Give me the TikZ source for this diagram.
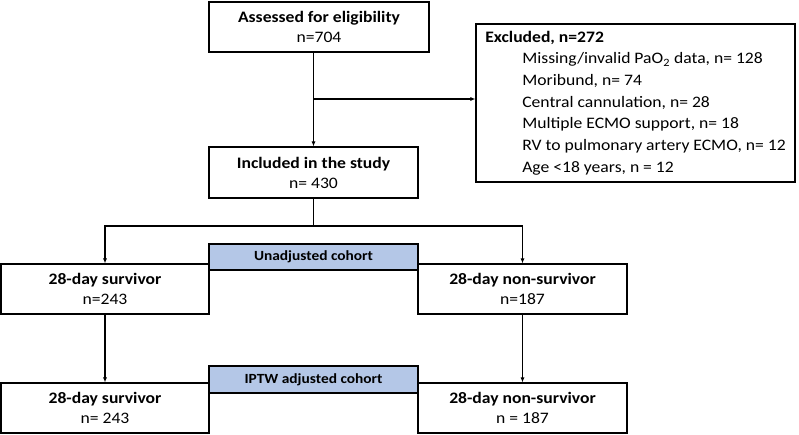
\documentclass[tikz,border=0pt]{standalone}
\usepackage{fontspec}
\setmainfont{Carlito}[FakeStretch=1.1]
\usetikzlibrary{arrows.meta}
\definecolor{cohortblue}{RGB}{180,199,231}
\begin{document}
\begin{tikzpicture}[x=1pt,y=-1pt,
  box/.style={draw=black,line width=1.1pt,fill=white,align=center,inner sep=0pt,
    font=\fontsize{16}{20}\selectfont},
  cohort/.style={draw=black,line width=1.1pt,fill=cohortblue,align=center,inner sep=0pt,
    minimum width=209pt,minimum height=26pt,font=\bfseries\fontsize{14}{15}\selectfont},
  conn/.style={line width=1.1pt,-{Latex[length=5pt,width=4pt]}},
  plain/.style={line width=1.1pt}]
\useasboundingbox (0,0) rectangle (799,434);
\node[box,minimum width=220pt,minimum height=50pt] (asses) at (319,27) {\textbf{Assessed for eligibility}\\n=704};
\node[box,minimum width=319pt,minimum height=158pt,align=left,
  font=\fontsize{16}{21.7}\selectfont] (excl) at (635.5,103)
  {\textbf{Excluded, n=272}\\
   \hspace*{37pt}Missing/invalid PaO\textsubscript{2} data, n= 128\\
   \hspace*{37pt}Moribund, n= 74\\
   \hspace*{37pt}Central cannulation, n= 28\\
   \hspace*{37pt}Multiple ECMO support, n= 18\\
   \hspace*{37pt}RV to pulmonary artery ECMO, n= 12\\
   \hspace*{37pt}Age <18 years, n = 12};
\node[box,minimum width=209pt,minimum height=51pt] (inc) at (313.5,172.5) {\textbf{Included in the study}\\n= 430};
\node[box,minimum width=208pt,minimum height=50pt] (surv1) at (105,289) {\textbf{28-day survivor}\\n=243};
\node[box,minimum width=209pt,minimum height=50pt] (non1) at (522.5,289) {\textbf{28-day non-survivor}\\n=187};
\node[cohort] (unadj) at (313.5,257) {Unadjusted cohort};
\node[box,minimum width=208pt,minimum height=50pt] (surv2) at (105,408) {\textbf{28-day survivor}\\n= 243};
\node[box,minimum width=209pt,minimum height=50pt] (non2) at (522.5,408) {\textbf{28-day non-survivor}\\n = 187};
\node[cohort,minimum height=27pt] (iptw) at (313.5,379.5) {IPTW adjusted cohort};
\coordinate (br) at (313.5,99);
\coordinate (split) at (313.5,226);
\draw[conn] (asses.south -| inc.north) -- (inc.north);
\draw[conn] (br) -- (br -| excl.west);
\draw[plain] (inc.south) -- (split);
\draw[conn] (split) -| (surv1.north);
\draw[conn] (split) -| (non1.north);
\draw[conn] (surv1.south) -- (surv2.north);
\draw[conn] (non1.south) -- (non2.north);
\end{tikzpicture}
\end{document}
